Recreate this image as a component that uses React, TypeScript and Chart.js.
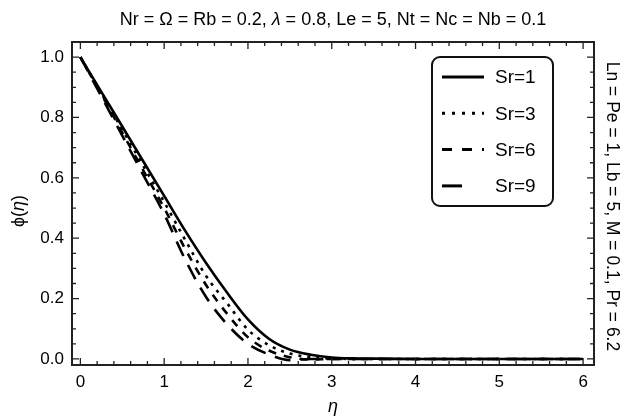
import React, { useEffect, useRef } from 'react';
import { Chart, registerables } from 'chart.js';
Chart.register(...registerables);

const eta = [0, 0.25, 0.5, 0.75, 1.0, 1.25, 1.5, 1.75, 2.0, 2.25, 2.5, 2.75, 3.0, 3.25, 3.5, 4, 4.5, 5, 5.5, 6];
const phiSr1 = [1.0, 0.885, 0.77, 0.655, 0.54, 0.425, 0.318, 0.22, 0.131, 0.067, 0.031, 0.014, 0.005, 0.002, 0.001, 0, 0, 0, 0, 0];
const phiSr3 = [1.0, 0.88, 0.76, 0.64, 0.52, 0.395, 0.275, 0.185, 0.097, 0.046, 0.018, 0.006, 0.002, 0, 0, 0, 0, 0, 0, 0];
const phiSr6 = [1.0, 0.877, 0.75, 0.625, 0.5, 0.365, 0.245, 0.15, 0.072, 0.028, 0.006, -0.002, 0, 0, 0, 0, 0, 0, 0, 0];
const phiSr9 = [1.0, 0.87, 0.74, 0.61, 0.48, 0.33, 0.205, 0.115, 0.05, 0.015, -0.004, 0.0, 0, 0, 0, 0, 0, 0, 0, 0];
const seriesLabels = ['Sr=1', 'Sr=3', 'Sr=6', 'Sr=9'];
const xTicks = [0, 1, 2, 3, 4, 5, 6];
const yTicks = [0, 0.2, 0.4, 0.6, 0.8, 1.0];

const FONT = '"Liberation Sans", Arial, sans-serif';
const titleText = [
  { t: 'Nr = \u03A9 = Rb = 0.2, ' }, { t: '\u03BB', i: true }, { t: ' = 0.8, Le = 5, Nt = Nc = Nb = 0.1' },
];
const rightText = 'Ln = Pe = 1, Lb = 5, M = 0.1, Pr = 6.2';

function drawRich(ctx: CanvasRenderingContext2D, segs: { t: string; i?: boolean }[], cx: number, cy: number, size: number) {
  const widths = segs.map((s) => {
    ctx.font = `${s.i ? 'italic ' : ''}${size}px ${FONT}`;
    return ctx.measureText(s.t).width;
  });
  const total = widths.reduce((a, b) => a + b, 0);
  let x = cx - total / 2;
  ctx.textAlign = 'left';
  ctx.textBaseline = 'middle';
  segs.forEach((s, k) => {
    ctx.font = `${s.i ? 'italic ' : ''}${size}px ${FONT}`;
    ctx.fillText(s.t, x, cy);
    x += widths[k];
  });
}

const decor = {
  id: 'decor',
  afterDatasetsDraw(chart: any) {
    const ctx: CanvasRenderingContext2D = chart.ctx;
    const a = chart.chartArea;
    const xs = chart.scales.x;
    const ys = chart.scales.y;
    ctx.save();
    ctx.strokeStyle = '#222';
    ctx.fillStyle = '#000';
    ctx.lineWidth = 2;
    ctx.strokeRect(a.left, a.top, a.right - a.left, a.bottom - a.top);
    ctx.lineWidth = 1.3;
    ctx.beginPath();
    for (let k = 0; k <= 30; k++) {
      const v = k * 0.2;
      const px = xs.getPixelForValue(v);
      const len = k % 5 === 0 ? 7 : 4;
      ctx.moveTo(px, a.bottom); ctx.lineTo(px, a.bottom - len);
      ctx.moveTo(px, a.top); ctx.lineTo(px, a.top + len);
    }
    for (let k = 0; k <= 20; k++) {
      const v = k * 0.05;
      const py = ys.getPixelForValue(v);
      const len = k % 4 === 0 ? 7 : 4;
      ctx.moveTo(a.left, py); ctx.lineTo(a.left + len, py);
      ctx.moveTo(a.right, py); ctx.lineTo(a.right - len, py);
    }
    ctx.stroke();

    // title
    drawRich(ctx, titleText, (a.left + a.right) / 2, 20, 18);
    // right label
    ctx.save();
    ctx.translate(612, (a.top + a.bottom) / 2 + 3);
    ctx.rotate(Math.PI / 2);
    drawRich(ctx, [{ t: rightText }], 0, 0, 17.5);
    ctx.restore();
    // y title
    ctx.save();
    ctx.translate(19, 211);
    ctx.rotate(-Math.PI / 2);
    drawRich(ctx, [{ t: '\u03D5(' }, { t: '\u03B7', i: true }, { t: ')' }], 0, 0, 18);
    ctx.restore();
    // x title
    drawRich(ctx, [{ t: '\u03B7', i: true }], (a.left + a.right) / 2, 407, 18);

    // legend
    const lx = 432, ly = 57, lw = 121, lh = 149;
    ctx.fillStyle = '#fff';
    ctx.strokeStyle = '#111';
    ctx.lineWidth = 2;
    ctx.beginPath();
    ctx.roundRect(lx, ly, lw, lh, 8);
    ctx.fill();
    ctx.stroke();
    chart.data.datasets.forEach((ds: any, k: number) => {
      const y = 77 + k * 36.3;
      ctx.beginPath();
      ctx.setLineDash(ds.legendDash || []);
      ctx.lineWidth = 3;
      ctx.strokeStyle = '#000';
      ctx.moveTo(442, y); ctx.lineTo(484, y);
      ctx.stroke();
      ctx.setLineDash([]);
      ctx.fillStyle = '#000';
      ctx.font = `19px ${FONT}`;
      ctx.textAlign = 'left';
      ctx.textBaseline = 'middle';
      ctx.fillText(ds.label, 495, y + 1);
    });
    ctx.restore();
  },
};

export default function App() {
  const ref = useRef<HTMLCanvasElement>(null);
  useEffect(() => {
    document.body.style.margin = '0';
    const mk = (vals: number[]) => eta.map((x, k) => ({ x, y: vals[k] }));
    const dashes = [[], [3, 6], [8, 8], [16, 10]];
    const legendDashes = [[], [3, 7], [10, 10], [20, 30]];
    const all = [phiSr1, phiSr3, phiSr6, phiSr9];
    const chart = new Chart(ref.current!, {
      type: 'line',
      data: {
        datasets: all.map((vals, k) => ({
          label: seriesLabels[k],
          data: mk(vals),
          borderColor: '#000',
          borderWidth: 2.6,
          borderDash: dashes[k],
          legendDash: legendDashes[k],
          pointRadius: 0,
          cubicInterpolationMode: 'monotone',
          fill: false,
        })) as any,
      },
      options: {
        animation: false,
        responsive: false,
        maintainAspectRatio: false,
        devicePixelRatio: 1,
        layout: { padding: { left: 0, top: 42, right: 34, bottom: 0 } },
        plugins: { legend: { display: false }, tooltip: { enabled: false }, title: { display: false } },
        scales: {
          x: {
            type: 'linear',
            min: -0.1,
            max: 6.13,
            afterBuildTicks: (s: any) => { s.ticks = xTicks.map((v) => ({ value: v })); },
            afterFit: (s: any) => { s.height = 55; },
            grid: { display: false, drawTicks: false },
            border: { display: false },
            ticks: { color: '#000', padding: 7, font: { size: 17, family: FONT }, maxRotation: 0, callback: (v: any) => String(v) },
          },
          y: {
            type: 'linear',
            min: -0.02,
            max: 1.05,
            afterBuildTicks: (s: any) => { s.ticks = yTicks.map((v) => ({ value: v })); },
            afterFit: (s: any) => { s.width = 72; },
            grid: { display: false, drawTicks: false },
            border: { display: false },
            ticks: { color: '#000', padding: 8, font: { size: 17, family: FONT }, callback: (v: any) => Number(v).toFixed(1) },
          },
        },
      },
      plugins: [decor],
    });
    return () => chart.destroy();
  }, []);
  return (
    <div style={{ position: 'absolute', left: 0, top: 0, width: 628, height: 420, background: '#fff' }}>
      <canvas ref={ref} width={628} height={420} style={{ width: 628, height: 420 }} />
    </div>
  );
}
